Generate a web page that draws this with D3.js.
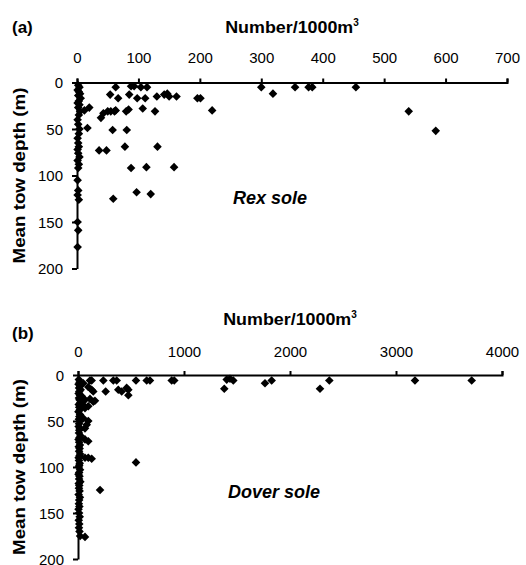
<!DOCTYPE html>
<html><head><meta charset="utf-8">
<script src="https://cdn.jsdelivr.net/npm/d3@7"></script>
<style>body{margin:0;background:#fff}svg{display:block}text{font-family:"Liberation Sans",Arial,sans-serif}</style>
</head><body>
<script>
// Panel (a) Rex sole: [number per 1000 m3, mean tow depth m]
const rexDensity = [2,4,1,3,5,2,6,3,1,4,2,5,3,1,2,4,3,1,2,3,1,2,4,1,3,2,1,2,1,3,1,2,1,
  63,88,93,104,114,54,67,85,98,111,130,142,147,150,162,196,201,20,12,220,39,43,50,55,61,63,80,84,107,127,17,58,81,36,48,78,131,88,113,158,97,120,59,
  300,319,355,377,383,454,540,584];
const rexDepth = [3,5,8,10,12,14,17,20,22,24,27,31,35,40,45,50,55,60,65,69,72,76,80,84,88,92,105,116,121,126,150,159,177,
  5,4,4,5,5,13,17,13,17,17,15,13,12,15,15,17,17,27,30,30,38,33,31,31,31,30,31,29,28,31,49,51,51,73,73,69,69,92,91,91,118,120,125,
  5,12,5,5,5,5,31,52];
// Panel (b) Dover sole
const doverDensity = [8,15,5,20,10,25,12,6,18,9,14,22,7,11,16,4,19,13,8,21,10,6,17,12,9,24,14,5,11,18,7,15,10,20,13,6,9,16,12,8,19,11,5,14,10,22,7,12,9,15,6,18,11,8,13,5,10,16,7,12,9,14,20,
  113,129,239,333,365,547,648,679,884,908,1403,1465,1434,1380,261,380,412,459,475,475,97,129,144,50,35,66,113,144,160,97,66,50,97,82,66,50,97,66,129,97,66,547,208,66,
  1764,1827,2283,2371,3179,3714];
const doverDepth = [5,8,10,12,14,16,18,20,22,25,27,30,32,35,38,40,43,45,48,50,53,56,58,60,63,66,68,70,73,76,78,80,83,86,88,90,93,96,98,100,103,106,108,110,113,116,118,120,123,126,130,133,136,140,143,146,150,154,158,162,166,170,175,
  6,6,6,6,6,6,6,6,6,6,5,6,4,15,18,16,18,14,16,22,13,16,18,9,23,27,26,29,28,34,36,33,50,54,58,47,72,70,91,90,90,95,125,176,
  9,6,15,6,6,6];
const depthTicks = [0,50,100,150,200];
const rexTicks = [0,100,200,300,400,500,600,700];
const doverTicks = [0,1000,2000,3000,4000];

const W = 526, H = 565;
const svg = d3.select("body").append("svg").attr("width", W).attr("height", H);

function diamond(s){return `M0,${-s}L${s},0L0,${s}L${-s},0Z`;}

function panel(cfg){
  const x = d3.scaleLinear().domain(cfg.xdom).range(cfg.xr);
  const y = d3.scaleLinear().domain([0,200]).range(cfg.yr);
  const g = svg.append("g");
  const xa = g.append("g").attr("transform",`translate(0,${cfg.yr[0]})`)
    .call(d3.axisTop(x).tickValues(cfg.xticks).tickSize(4).tickPadding(cfg.xpad).tickSizeOuter(4).tickFormat(d3.format("d")));
  const ya = g.append("g").attr("transform",`translate(${cfg.xr[0]},0)`)
    .call(d3.axisLeft(y).tickValues(depthTicks).tickSize(5).tickPadding(9).tickSizeOuter(0));
  [xa,ya].forEach(a=>{
    a.select(".domain").attr("stroke","#000").attr("stroke-width",2);
    a.selectAll(".tick line").attr("stroke","#000").attr("stroke-width",2);
    a.selectAll("text").attr("font-size",15).attr("fill","#000").attr("font-family","Liberation Sans, Arial, sans-serif");
  });
  ya.selectAll(".tick text").attr("dy","0.36em");
  g.selectAll("path.pt").data(cfg.xs.map((v,i)=>[v,cfg.ys[i]])).enter().append("path")
    .attr("class","pt").attr("d",diamond(4.3)).attr("fill","#000")
    .attr("transform",d=>`translate(${x(d[0])},${y(d[1])})`);
  const t = g.append("text").attr("x",(cfg.xr[0]+cfg.xr[1])/2).attr("y",cfg.titleY)
    .attr("text-anchor","middle").attr("font-weight","bold").attr("font-size",16);
  t.append("tspan").text("Number/1000m").attr("textLength",128).attr("lengthAdjust","spacingAndGlyphs");
  t.append("tspan").text("3").attr("font-size",10).attr("dy",-7);
  g.append("text").attr("x",12).attr("y",cfg.labY).attr("font-weight","bold").attr("font-size",17).text(cfg.lab);
  const yc = (cfg.yr[0]+cfg.yr[1])/2;
  g.append("text").attr("transform",`translate(25,${yc}) rotate(-90)`).attr("text-anchor","middle")
    .attr("font-weight","bold").attr("font-size",16).attr("textLength",176).attr("lengthAdjust","spacingAndGlyphs")
    .text("Mean tow depth (m)");
  g.append("text").attr("x",cfg.spX).attr("y",cfg.spY).attr("font-weight","bold").attr("font-style","italic")
    .attr("font-size",18).text(cfg.sp);
}

panel({xdom:[0,700],xr:[77,507],yr:[82.5,268.5],xticks:rexTicks,xpad:16,xs:rexDensity,ys:rexDepth,
  titleY:33,lab:"(a)",labY:33,sp:"Rex sole",spX:233,spY:204});
panel({xdom:[0,4000],xr:[78,502],yr:[375,559],xticks:doverTicks,xpad:14,xs:doverDensity,ys:doverDepth,
  titleY:325,lab:"(b)",labY:339,sp:"Dover sole",spX:228,spY:498});
</script>
</body></html>
